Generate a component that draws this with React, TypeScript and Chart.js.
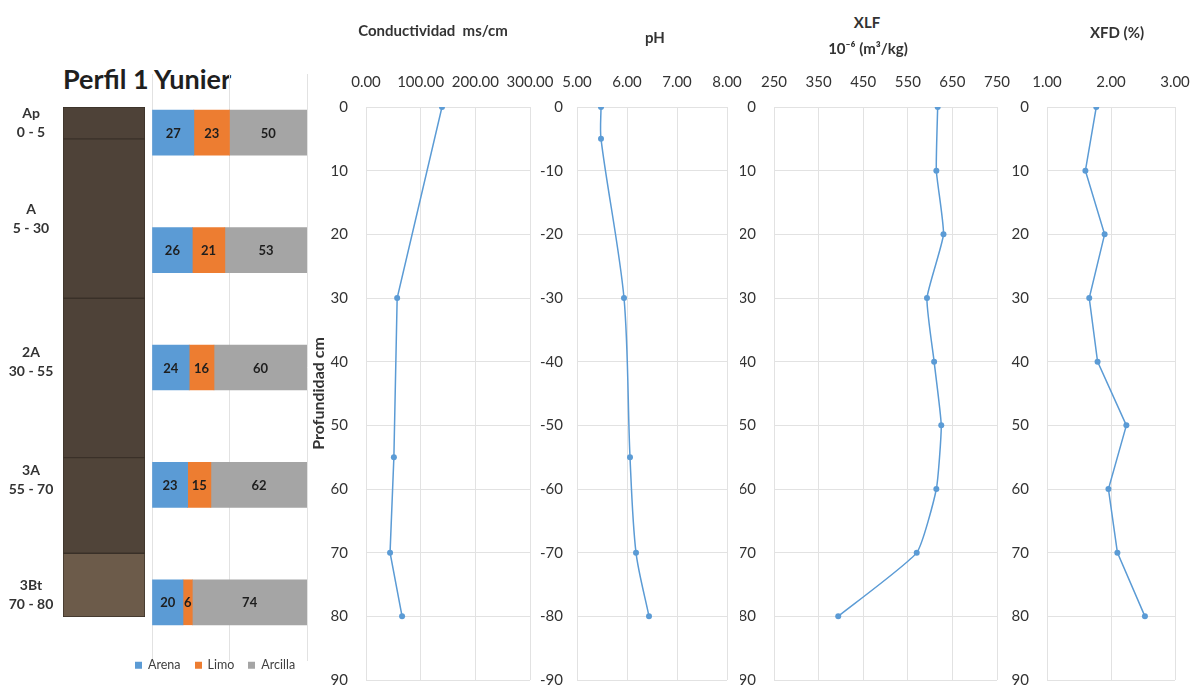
import React, { useEffect, useRef } from 'react';
import { Chart, registerables } from 'chart.js';

Chart.register(...registerables);

const FONT = "Lato, 'Open Sans', 'DejaVu Sans', sans-serif";
const TEXT = '#333333';
const GRID = '#e2e2e2';
const LINE_BLUE = '#5b9bd5';

// ---------------- data ----------------
const horizonNames = ['Ap', 'A', '2A', '3A', '3Bt'];
const horizonRanges = ['0 - 5', '5 - 30', '30 - 55', '55 - 70', '70 - 80'];
const horizonTop = [0, 5, 30, 55, 70];
const horizonBottom = [5, 30, 55, 70, 80];
const horizonColors = ['#4e4238', '#4e4238', '#4e4238', '#504439', '#6c5b4a'];
const horizonLabelDepth = [2.5, 17.5, 40, 58.5, 76.5];

const textureCategories = ['0 - 5', '5 - 30', '30 - 55', '55 - 70', '70 - 80'];
const textureSeries = ['Arena', 'Limo', 'Arcilla'];
const textureColors = ['#5b9bd5', '#ed7d31', '#a5a5a5'];
const arenaValues = [27, 26, 24, 23, 20];
const limoValues = [23, 21, 16, 15, 6];
const arcillaValues = [50, 53, 60, 62, 74];
const textureTicks = [0, 50, 100];

const condDepths = [0, 30, 55, 70, 80];
const condValues = [139, 57, 51, 44, 66];
const condTicks = [0, 100, 200, 300];

const phDepths = [0, -5, -30, -55, -70, -80];
const phValues = [5.48, 5.48, 5.94, 6.06, 6.18, 6.44];
const phTicks = [5, 6, 7, 8];

const xlfDepths = [0, 10, 20, 30, 40, 50, 60, 70, 80];
const xlfValues = [617, 614, 630, 593, 609, 625, 614, 570, 394];
const xlfTicks = [250, 350, 450, 550, 650, 750];

const xfdDepths = [0, 10, 20, 30, 40, 50, 60, 70, 80];
const xfdValues = [1.77, 1.6, 1.9, 1.66, 1.79, 2.24, 1.96, 2.1, 2.53];
const xfdTicks = [1, 2, 3];

const depthTicks = [0, 10, 20, 30, 40, 50, 60, 70, 80, 90];
const negDepthTicks = [-90, -80, -70, -60, -50, -40, -30, -20, -10, 0];

// ---------------- helpers ----------------
function ChartCanvas({ left, top, width, height, build }: any) {
  const ref = useRef<HTMLCanvasElement | null>(null);
  useEffect(() => {
    const chart = build(ref.current);
    return () => chart.destroy();
  }, []);
  return (
    <canvas
      ref={ref}
      width={width}
      height={height}
      style={{ position: 'absolute', left, top, width, height }}
    />
  );
}

const horizonLabelPlugin = {
  id: 'horizonLabels',
  afterDraw(chart: any) {
    const { ctx } = chart;
    const yScale = chart.scales.y;
    ctx.save();
    ctx.fillStyle = TEXT;
    ctx.textAlign = 'center';
    ctx.textBaseline = 'middle';
    ctx.font = `bold 14px ${FONT}`;
    horizonNames.forEach((name, i) => {
      const y = yScale.getPixelForValue(horizonLabelDepth[i]);
      ctx.fillText(name, 31, y - 9.5);
      ctx.fillText(horizonRanges[i], 31, y + 9.5);
    });
    ctx.restore();
  },
};

const segmentLabelPlugin = {
  id: 'segmentLabels',
  afterDatasetsDraw(chart: any) {
    const { ctx } = chart;
    ctx.save();
    ctx.fillStyle = '#1e1e1e';
    ctx.textAlign = 'center';
    ctx.textBaseline = 'middle';
    ctx.font = `bold 13px ${FONT}`;
    chart.data.datasets.forEach((ds: any, di: number) => {
      const meta = chart.getDatasetMeta(di);
      meta.data.forEach((bar: any, i: number) => {
        const p = bar.getProps(['x', 'y', 'base'], true);
        ctx.fillText(String(ds.data[i]), (p.x + p.base) / 2, p.y + 1);
      });
    });
    ctx.restore();
  },
};

function buildProfile(canvas: HTMLCanvasElement) {
  return new Chart(canvas, {
    type: 'bar',
    data: {
      labels: ['Perfil'],
      datasets: horizonNames.map((name, i) => ({
        label: name,
        data: [[horizonTop[i], horizonBottom[i]]] as any,
        backgroundColor: horizonColors[i],
        borderColor: '#3a3028',
        borderWidth: 1,
        borderSkipped: false,
        grouped: false,
        barPercentage: 1,
        categoryPercentage: 1,
      })),
    },
    options: {
      animation: false,
      responsive: false,
      layout: { padding: { left: 63, right: 5, top: 12, bottom: 18 } },
      plugins: { legend: { display: false }, tooltip: { enabled: false } },
      scales: {
        x: { display: false },
        y: { display: false, min: 0, max: 80, reverse: true },
      },
    } as any,
    plugins: [horizonLabelPlugin],
  });
}

const textureValues = [arenaValues, limoValues, arcillaValues];

function buildTexture(canvas: HTMLCanvasElement) {
  return new Chart(canvas, {
    type: 'bar',
    data: {
      labels: textureCategories,
      datasets: textureSeries.map((name, i) => ({
        label: name,
        data: textureValues[i],
        backgroundColor: textureColors[i],
      })),
    },
    options: {
      indexAxis: 'y',
      animation: false,
      responsive: false,
      datasets: { bar: { barThickness: 45 } },
      layout: { padding: { left: 12, right: 5, top: 14, bottom: 30 } },
      plugins: { legend: { display: false }, tooltip: { enabled: false } },
      scales: {
        x: {
          stacked: true,
          min: 0,
          max: 100,
          afterBuildTicks: (s: any) => {
            s.ticks = textureTicks.map((v) => ({ value: v }));
          },
          afterFit: (s: any) => {
            s.height = 0;
          },
          ticks: { display: false },
          grid: { color: GRID, drawTicks: false },
          border: { display: false },
        },
        y: { stacked: true, display: false },
      },
    } as any,
    plugins: [segmentLabelPlugin],
  });
}

function makeLineBuilder(spec: any) {
  return (canvas: HTMLCanvasElement) =>
    new Chart(canvas, {
      type: 'line',
      data: {
        datasets: [
          {
            data: spec.depths.map((d: number, i: number) => ({ x: spec.values[i], y: d })),
            borderColor: LINE_BLUE,
            backgroundColor: LINE_BLUE,
            borderWidth: 1.5,
            pointRadius: 3,
            pointBorderWidth: 0,
            pointBackgroundColor: LINE_BLUE,
            tension: spec.tension,
            fill: false,
          },
        ],
      },
      options: {
        animation: false,
        responsive: false,
        layout: { padding: { top: 0, left: 0, right: spec.padRight, bottom: 11 } },
        plugins: { legend: { display: false }, tooltip: { enabled: false } },
        scales: {
          x: {
            type: 'linear',
            position: 'top',
            min: spec.xTicks[0],
            max: spec.xTicks[spec.xTicks.length - 1],
            afterBuildTicks: (s: any) => {
              s.ticks = spec.xTicks.map((v: number) => ({ value: v }));
            },
            afterFit: (s: any) => {
              s.height = 47;
              s.paddingLeft = 0;
              s.paddingRight = 0;
            },
            grid: { color: GRID, drawTicks: false },
            border: { color: GRID },
            ticks: {
              padding: 16,
              autoSkip: false,
              maxRotation: 0,
              color: TEXT,
              font: { size: 15, family: FONT },
              callback: (v: any) => Number(v).toFixed(spec.decimals),
            },
          },
          y: {
            type: 'linear',
            reverse: spec.reverse,
            min: spec.yTicks[0],
            max: spec.yTicks[spec.yTicks.length - 1],
            afterBuildTicks: (s: any) => {
              s.ticks = spec.yTicks.map((v: number) => ({ value: v }));
            },
            afterFit: (s: any) => {
              s.width = spec.yWidth;
              s.paddingTop = 0;
              s.paddingBottom = 0;
            },
            grid: { color: GRID, drawTicks: false },
            border: { color: GRID },
            ticks: {
              padding: spec.yPad,
              autoSkip: false,
              color: TEXT,
              font: { size: 15, family: FONT },
            },
            title: spec.yTitle
              ? {
                  display: true,
                  text: spec.yTitle,
                  color: TEXT,
                  font: { size: 16, family: FONT, weight: 'bold' },
                  padding: { top: 2, bottom: 2 },
                }
              : { display: false },
          },
        },
      } as any,
    });
}

const lineCharts = [
  {
    key: 'cond',
    depths: condDepths,
    values: condValues,
    xTicks: condTicks,
    yTicks: depthTicks,
    reverse: true,
    decimals: 2,
    tension: 0,
    left: 307,
    width: 247,
    yWidth: 59,
    yPad: 18,
    padRight: 24,
    yTitle: 'Profundidad cm',
  },
  {
    key: 'ph',
    depths: phDepths,
    values: phValues,
    xTicks: phTicks,
    yTicks: negDepthTicks,
    reverse: false,
    decimals: 2,
    tension: 0.3,
    left: 540,
    width: 207,
    yWidth: 37,
    yPad: 14,
    padRight: 20,
  },
  {
    key: 'xlf',
    depths: xlfDepths,
    values: xlfValues,
    xTicks: xlfTicks,
    yTicks: depthTicks,
    reverse: true,
    decimals: 0,
    tension: 0.15,
    left: 740,
    width: 273,
    yWidth: 34,
    yPad: 18,
    padRight: 16,
  },
  {
    key: 'xfd',
    depths: xfdDepths,
    values: xfdValues,
    xTicks: xfdTicks,
    yTicks: depthTicks,
    reverse: true,
    decimals: 2,
    tension: 0,
    left: 1010,
    width: 182,
    yWidth: 37,
    yPad: 18,
    padRight: 17,
  },
];

const titleStyle = (cx: number, cy: number, size: number): any => ({
  position: 'absolute',
  left: cx,
  top: cy,
  transform: 'translate(-50%, -50%)',
  fontFamily: FONT,
  fontWeight: 'bold',
  fontSize: size,
  color: TEXT,
  whiteSpace: 'pre',
  lineHeight: 1,
});

function TextureLegend() {
  return (
    <div
      style={{
        position: 'absolute',
        left: 135,
        top: 665,
        transform: 'translateY(-50%)',
        display: 'flex',
        alignItems: 'center',
        fontFamily: FONT,
        fontSize: 12.5,
        color: '#404040',
        whiteSpace: 'nowrap',
        lineHeight: 1,
      }}
    >
      {textureSeries.map((name, i) => (
        <div key={name} style={{ display: 'flex', alignItems: 'center', marginRight: 14 }}>
          <span
            style={{
              display: 'inline-block',
              width: 7,
              height: 7,
              background: textureColors[i],
              marginRight: 6,
            }}
          />
          <span>{name}</span>
        </div>
      ))}
    </div>
  );
}

export default function App() {
  return (
    <div
      style={{
        position: 'fixed',
        left: 0,
        top: 0,
        width: 1192,
        height: 691,
        background: '#ffffff',
        overflow: 'hidden',
      }}
    >
      <div style={{ ...titleStyle(147, 78, 27), color: '#1f1f1f' }}>Perfil 1 Yunier</div>
      <ChartCanvas left={0} top={95} width={150} height={540} build={buildProfile} />
      <ChartCanvas left={140} top={60} width={172} height={631} build={buildTexture} />
      <TextureLegend />
      {lineCharts.map((spec) => (
        <ChartCanvas
          key={spec.key}
          left={spec.left}
          top={60}
          width={spec.width}
          height={631}
          build={makeLineBuilder(spec)}
        />
      ))}
      <div style={titleStyle(433, 30, 15)}>{'Conductividad  ms/cm'}</div>
      <div style={titleStyle(655, 37, 15)}>pH</div>
      <div style={titleStyle(867, 22, 15)}>XLF</div>
      <div style={titleStyle(868, 48, 15)}>{'10⁻⁶ (m³/kg)'}</div>
      <div style={titleStyle(1117, 32, 15)}>XFD (%)</div>
    </div>
  );
}
